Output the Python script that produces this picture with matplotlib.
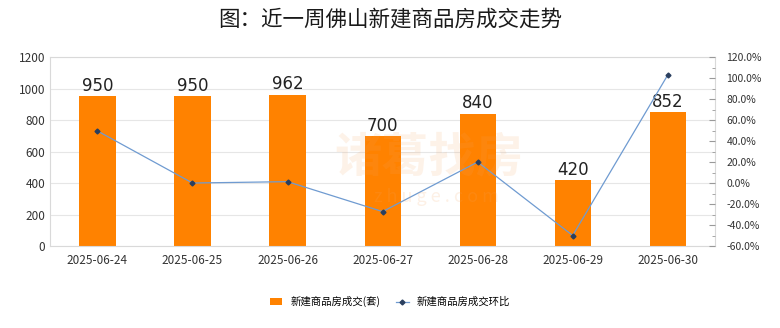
import matplotlib.pyplot as plt
from matplotlib.ticker import FuncFormatter, MultipleLocator

plt.rcParams['font.family'] = ['Noto Sans CJK SC', 'DejaVu Sans']

# 数据
dates = ['2025-06-24', '2025-06-25', '2025-06-26', '2025-06-27',
         '2025-06-28', '2025-06-29', '2025-06-30']
deals = [950, 950, 962, 700, 840, 420, 852]
ratio = [49.6, 0.0, 1.3, -27.2, 20.0, -50.0, 102.9]

fig = plt.figure(figsize=(7.8, 3.28), dpi=100)
ax = fig.add_axes([0.064, 0.25, 0.853, 0.576])
ax2 = ax.twinx()

x = range(len(dates))
ax.bar(x, deals, width=0.38, color='#ff8200', zorder=2,
       label='新建商品房成交(套)')
for xi, v in zip(x, deals):
    ax.text(xi, v + 8, str(v), ha='center', va='bottom', fontsize=12,
            color='#222222', family=['DejaVu Sans'])

ax.set_ylim(0, 1200)
ax.set_yticks(range(0, 1201, 200))
ax.set_xlim(-0.5, len(dates) - 0.5)
ax.set_xticks(list(x))
ax.set_xticklabels(dates)
ax.grid(axis='y', color='#e6e6e6', linewidth=0.8, zorder=0)
ax.tick_params(axis='both', length=0, labelsize=8.5, colors='#333333')
ax.tick_params(axis='x', pad=6)
for s in ax.spines.values():
    s.set_color('#d9d9d9')
    s.set_linewidth(0.8)

ax2.plot(list(x), ratio, color='#6f9bd1', linewidth=0.9, marker='D',
         markersize=2.5, markerfacecolor='#2a3f5f', markeredgecolor='#2a3f5f',
         zorder=3, label='新建商品房成交环比')
ax2.set_ylim(-60, 120)
ax2.set_yticks(range(-60, 121, 20))
ax2.yaxis.set_minor_locator(MultipleLocator(10))
ax2.yaxis.set_major_formatter(FuncFormatter(lambda v, p: f'{v:.1f}%'))
ax2.tick_params(axis='y', which='major', length=4, direction='in', pad=8,
                labelsize=7.5, colors='#333333', color='#999999')
ax2.tick_params(axis='y', which='minor', length=2, direction='in', color='#999999')
for s in ax2.spines.values():
    s.set_visible(False)

# 水印
fig.text(0.55, 0.52, '诸葛找房', ha='center', va='center', fontsize=34,
         color='#f4a460', alpha=0.14, fontweight='bold')
fig.text(0.56, 0.4, 'z h u g e . c o m', ha='center', va='center', fontsize=13,
         color='#f4a460', alpha=0.16)

fig.suptitle('图：近一周佛山新建商品房成交走势', y=0.975, fontsize=15.5,
             color='#1a1a1a', fontweight='medium')

h1, l1 = ax.get_legend_handles_labels()
h2, l2 = ax2.get_legend_handles_labels()
fig.legend(h1 + h2, l1 + l2, loc='lower center', bbox_to_anchor=(0.5, 0.035),
           ncol=2, frameon=False, fontsize=7.5, handlelength=1.2,
           handleheight=0.6, columnspacing=1.5)

plt.savefig('out.png', dpi=100)
